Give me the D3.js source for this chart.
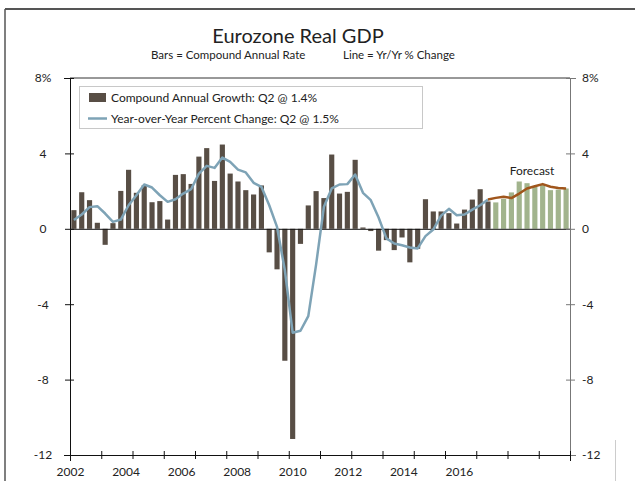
<!DOCTYPE html>
<meta charset="utf-8">
<head>
  <title>Eurozone Real GDP</title>
</head>
<style>
  body { margin: 0; background: #fff; }
  text { font-family: Lato, "Open Sans", sans-serif; fill: #222; }
  .title { font-size: 20px; text-anchor: middle; }
  .subtitle { font-size: 11.5px; }
  .legend text { font-size: 12px; }
  .axis text { font-size: 12px; }
  .forecastLabel { font-size: 12px; text-anchor: middle; }
</style>
<body>
<script src="https://cdn.jsdelivr.net/npm/d3@7"></script>
<script>
var width = 635, height = 481;
var x0 = 70, x1 = 570, yTop = 78, yBot = 455;

// categories
var years = [2002, 2003, 2004, 2005, 2006, 2007, 2008, 2009,
             2010, 2011, 2012, 2013, 2014, 2015, 2016, 2017];
var qtrs = ["Q1", "Q2", "Q3", "Q4"];
var quarters = [];
years.forEach(function(y) { qtrs.forEach(function(q) { quarters.push(y + q); }); });

// compound annual growth, actual 2002Q1 - 2015Q2
var growthActual = [0.99, 1.94, 1.52, 0.32, -0.85, 0.30, 2.01, 3.13,
                    1.91, 2.31, 1.41, 1.47, 0.49, 2.86, 2.90, 2.38,
                    3.83, 4.28, 2.54, 4.47, 2.93, 2.51, 2.05, 1.82,
                    2.30, -1.25, -2.15, -7.00, -11.15, -0.80, 1.24, 2.00,
                    1.63, 3.94, 1.87, 1.96, 3.66, 0.07, -0.12, -1.16,
                    -0.60, -1.13, -0.46, -1.78, -1.06, 1.57, 0.92, 0.92,
                    0.83, 0.28, 1.02, 1.55, 2.10, 1.45];
// compound annual growth, forecast 2015Q3 - 2017Q4
var growthForecast = [1.40, 1.59, 1.93, 2.51, 2.42, 2.23, 2.33, 2.05, 2.08, 2.14];

// year-over-year change, actual 2002Q1 - 2015Q2
var yoyActual = [0.47, 0.76, 1.15, 1.20, 0.81, 0.37, 0.49, 1.25,
                 1.78, 2.35, 2.19, 1.78, 1.43, 1.57, 1.87, 2.10,
                 2.93, 3.34, 3.23, 3.78, 3.55, 3.14, 2.99, 2.44,
                 2.23, 1.25, 0.10, -2.20, -5.51, -5.41, -4.63, -1.90,
                 1.17, 2.14, 2.35, 2.37, 2.88, 1.91, 1.52, 0.60,
                 -0.51, -0.78, -0.87, -0.99, -1.04, -0.39, -0.04, 0.70,
                 1.06, 0.72, 0.76, 1.02, 1.25, 1.55];
// year-over-year change, forecast 2015Q2 - 2017Q4
var yoyForecast = [1.55, 1.64, 1.70, 1.63, 1.87, 2.14, 2.26, 2.37, 2.23, 2.16, 2.14];

var yTicks = [8, 4, 0, -4, -8, -12];
var yearLabels = [2002, 2004, 2006, 2008, 2010, 2012, 2014, 2016];
var legendLabels = ["Compound Annual Growth: Q2 @ 1.4%",
                    "Year-over-Year Percent Change: Q2 @ 1.5%"];

var barColor = "#584e45", fcBarColor = "#a2b48d",
    lineColor = "#7ea3b6", fcLineColor = "#a0561c";

var svg = d3.select("body").append("svg")
    .attr("width", width)
    .attr("height", height);

// scales
var x = d3.scaleBand().domain(quarters).range([x0, x1]).paddingInner(0.34).paddingOuter(0.17);
var xTick = d3.scaleLinear().domain([0, quarters.length]).range([x0, x1]);
var xLabel = d3.scaleLinear().domain([2002, 2020]).range([x0, x1]);
var y = d3.scaleLinear().domain([-12, 8]).range([yBot, yTop]);
var cx = function(q) { return x(q) + x.bandwidth() / 2; };

// frame
svg.append("line").attr("x1", 5).attr("x2", width).attr("y1", 9).attr("y2", 9)
    .attr("stroke", "#555").attr("stroke-width", 2);
svg.append("line").attr("x1", 5).attr("x2", 5).attr("y1", 9).attr("y2", height)
    .attr("stroke", "#555").attr("stroke-width", 1.5);
svg.append("line").attr("x1", 615.5).attr("x2", 615.5).attr("y1", 440).attr("y2", height)
    .attr("stroke", "#ccc");

// titles
svg.append("text").attr("class", "title").attr("x", 298).attr("y", 43).text("Eurozone Real GDP");
svg.append("text").attr("class", "subtitle").attr("x", 151).attr("y", 59).text("Bars = Compound Annual Rate");
svg.append("text").attr("class", "subtitle").attr("x", 343).attr("y", 59).text("Line = Yr/Yr % Change");

// bars
var bars = growthActual.map(function(v, i) { return {q: quarters[i], v: v, fc: false}; })
  .concat(growthForecast.map(function(v, i) { return {q: quarters[growthActual.length + i], v: v, fc: true}; }));

svg.selectAll(".bar")
    .data(bars)
  .enter().append("rect")
    .attr("class", "bar")
    .attr("x", function(d) { return x(d.q); })
    .attr("width", x.bandwidth())
    .attr("y", function(d) { return y(Math.max(0, d.v)); })
    .attr("height", function(d) { return Math.abs(y(d.v) - y(0)); })
    .attr("fill", function(d) { return d.fc ? fcBarColor : barColor; });

// top border of plot and zero line
svg.append("line").attr("x1", x0).attr("x2", x1).attr("y1", y(8)).attr("y2", y(8))
    .attr("stroke", "#333");
svg.append("line").attr("x1", x0).attr("x2", x1).attr("y1", y(0) + 0.5).attr("y2", y(0) + 0.5)
    .attr("stroke", "#111");

// lines
var line = d3.line()
    .x(function(d) { return cx(d.q); })
    .y(function(d) { return y(d.v); });

var yoyA = yoyActual.map(function(v, i) { return {q: quarters[i], v: v}; });
var yoyF = yoyForecast.map(function(v, i) { return {q: quarters[growthActual.length - 1 + i], v: v}; });

svg.append("path").datum(yoyA)
    .attr("d", line).attr("fill", "none")
    .attr("stroke", lineColor).attr("stroke-width", 2.5)
    .attr("stroke-linejoin", "round");
svg.append("path").datum(yoyF)
    .attr("d", line).attr("fill", "none")
    .attr("stroke", fcLineColor).attr("stroke-width", 2.5)
    .attr("stroke-linejoin", "round");

// left axis
var left = svg.append("g").attr("class", "axis")
    .attr("transform", "translate(" + x0 + ",0)")
    .call(d3.axisLeft(y).tickValues(yTicks)
      .tickFormat(function(d) { return d === 8 ? "8%" : d; }));
left.select(".domain").attr("stroke", "#111");
left.selectAll(".tick line").attr("x1", -5).attr("x2", 4).attr("stroke", "#111");
left.selectAll(".tick text").attr("x", -27).attr("text-anchor", "middle").attr("fill", "#222");

// right axis
var right = svg.append("g").attr("class", "axis")
    .attr("transform", "translate(" + x1 + ",0)")
    .call(d3.axisRight(y).tickValues(yTicks)
      .tickFormat(function(d) { return d === 8 ? "8%" : d; }));
right.select(".domain").attr("stroke", "#777");
right.selectAll(".tick line").attr("x1", -4).attr("x2", 5).attr("stroke", "#777");
right.selectAll(".tick text").attr("x", 12).attr("text-anchor", "start").attr("fill", "#222");

// bottom axis ticks (one per year)
var bottom = svg.append("g").attr("class", "axis")
    .attr("transform", "translate(0," + yBot + ")")
    .call(d3.axisBottom(xTick).tickValues(d3.range(0, quarters.length + 1, 4)).tickFormat(""));
bottom.select(".domain").attr("stroke", "#111");
bottom.selectAll(".tick line").attr("y1", -4).attr("y2", 4).attr("stroke", "#111");

// year labels
var labels = svg.append("g").attr("class", "axis")
    .attr("transform", "translate(0," + yBot + ")")
    .call(d3.axisBottom(xLabel).tickValues(yearLabels).tickSize(0).tickPadding(12)
      .tickFormat(d3.format("d")));
labels.select(".domain").remove();
labels.selectAll(".tick text").attr("fill", "#222");

// forecast label
svg.append("text").attr("class", "forecastLabel")
    .attr("x", 532).attr("y", 175).text("Forecast");

// legend
var legend = svg.append("g").attr("class", "legend");
legend.append("rect")
    .attr("x", 79.5).attr("y", 86.5).attr("width", 343).attr("height", 42)
    .attr("fill", "#fff").attr("stroke", "#c8c8c8");
legend.append("rect")
    .attr("x", 89).attr("y", 93).attr("width", 17).attr("height", 9)
    .attr("fill", barColor);
legend.append("text").attr("x", 111).attr("y", 102).text(legendLabels[0]);
legend.append("line")
    .attr("x1", 88).attr("x2", 107).attr("y1", 118.5).attr("y2", 118.5)
    .attr("stroke", lineColor).attr("stroke-width", 2.5);
legend.append("text").attr("x", 111).attr("y", 122.5).text(legendLabels[1]);
</script>
</body>
